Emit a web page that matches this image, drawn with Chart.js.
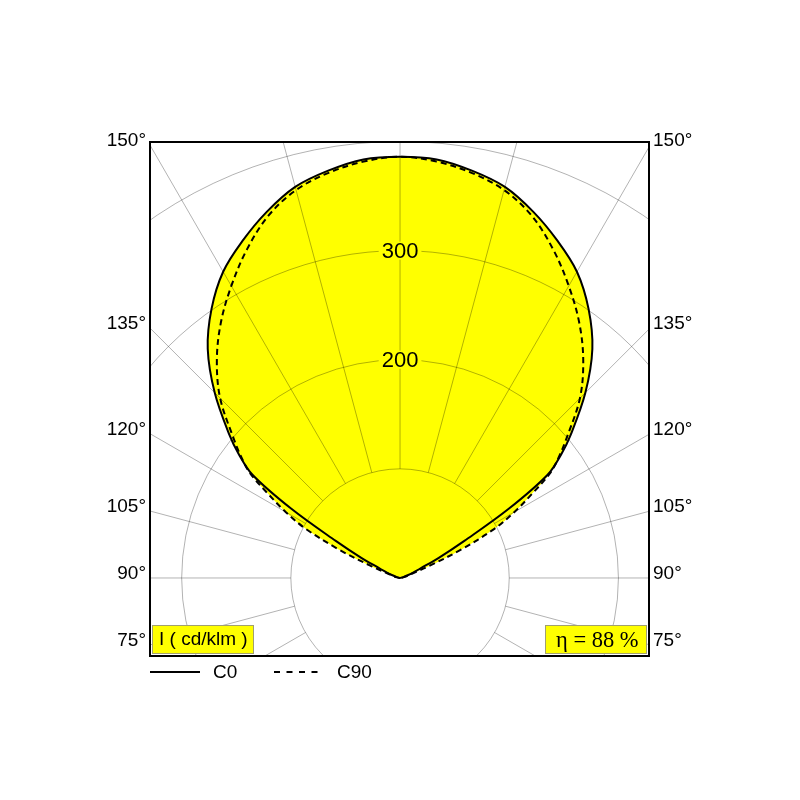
<!DOCTYPE html>
<html>
<head>
<meta charset="utf-8">
<script src="https://cdn.jsdelivr.net/npm/chart.js@4.4.0/dist/chart.umd.min.js"></script>
<style>
html,body{margin:0;padding:0;background:#fff;}
</style>
</head>
<body>
<canvas id="myChart" width="800" height="800"></canvas>
<script>
// gamma angles, degrees from nadir (180 = straight up)
const gammaAngles = [90, 95, 100, 105, 110, 112.5, 115, 117.5, 120, 122.5, 125, 127.5, 130, 135, 140, 145, 150, 155, 160, 165, 170, 175, 180];
// intensities in cd/klm
const c0Values  = [0, 0, 1, 3, 8, 13, 20, 40, 68, 118, 165, 186, 204, 240, 274, 301, 324, 341, 357, 371, 379, 385, 386];
const c90Values = [0, 1, 3, 6, 12, 30, 62, 97, 121, 143, 168, 184, 199, 233, 261, 286, 309, 332, 353, 368, 377, 383, 386];

const seriesNames = ['C0', 'C90'];
const ringValues = [100, 200, 300, 400, 500, 600];
const ringLabels = [200, 300];
const spokeAngles = [0, 15, 30, 45, 60, 75, 90, 105, 120, 135, 150, 165, 180, 195, 210, 225, 240, 255, 270, 285, 300, 315, 330, 345];
const sideLabels = [75, 90, 105, 120, 135, 150];
const unitText = 'I ( cd/klm )';
const etaText = 'η = 88 %';

const yellow = '#ffff00';
const rad = Math.PI / 180;

// left half goes up from 90 to 180, right half comes back down
function polarPoints(values){
  let pts = [];
  gammaAngles.forEach((g, i) => {
    pts.push({x: -values[i] * Math.sin(g * rad), y: -values[i] * Math.cos(g * rad)});
  });
  for (let i = gammaAngles.length - 2; i >= 0; i--) {
    let g = gammaAngles[i];
    pts.push({x: values[i] * Math.sin(g * rad), y: -values[i] * Math.cos(g * rad)});
  }
  return pts;
}

const gridPlugin = {
  id: 'polarGrid',
  beforeDatasetsDraw(chart){
    const {ctx, chartArea, scales: {x, y}} = chart;
    const cx = x.getPixelForValue(0);
    const cy = y.getPixelForValue(0);
    ctx.save();
    ctx.beginPath();
    ctx.rect(chartArea.left, chartArea.top, chartArea.right - chartArea.left, chartArea.bottom - chartArea.top);
    ctx.clip();
    ctx.strokeStyle = 'rgba(0,0,0,0.3)';
    ctx.lineWidth = 1;
    ringValues.forEach(r => {
      const rx = x.getPixelForValue(r) - cx;
      const ry = cy - y.getPixelForValue(r);
      ctx.beginPath();
      ctx.ellipse(cx, cy, rx, ry, 0, 0, Math.PI * 2);
      ctx.stroke();
    });
    const inner = ringValues[0];
    const outer = ringValues[ringValues.length - 1];
    spokeAngles.forEach(g => {
      const sx = Math.sin(g * rad), sy = -Math.cos(g * rad);
      ctx.beginPath();
      ctx.moveTo(x.getPixelForValue(inner * sx), y.getPixelForValue(inner * sy));
      ctx.lineTo(x.getPixelForValue(outer * sx), y.getPixelForValue(outer * sy));
      ctx.stroke();
    });
    ctx.restore();
  },
  afterDatasetsDraw(chart){
    const {ctx, scales: {x, y}} = chart;
    const cx = x.getPixelForValue(0);
    ctx.save();
    ctx.font = '22px "Liberation Sans", Arial, sans-serif';
    ctx.textAlign = 'center';
    ctx.textBaseline = 'middle';
    ringLabels.forEach(r => {
      const py = y.getPixelForValue(r);
      const w = ctx.measureText(String(r)).width;
      ctx.fillStyle = yellow;
      ctx.fillRect(cx - w / 2 - 3, py - 9, w + 6, 18);
      ctx.fillStyle = '#000';
      ctx.fillText(String(r), cx, py + 1);
    });
    ctx.restore();
  },
  afterDraw(chart){
    const {ctx, chartArea: a, scales: {x, y}} = chart;
    ctx.save();
    // frame
    ctx.strokeStyle = '#000';
    ctx.lineWidth = 2;
    ctx.strokeRect(a.left, a.top, a.right - a.left, a.bottom - a.top);

    // angle labels on both sides
    ctx.fillStyle = '#000';
    ctx.font = '19px "Liberation Sans", Arial, sans-serif';
    ctx.textBaseline = 'alphabetic';
    sideLabels.forEach(g => {
      const py = y.getPixelForValue(-x.min * Math.tan((g - 90) * rad)) + 1;
      ctx.textAlign = 'right';
      ctx.fillText(g + '°', a.left - 4, py);
      ctx.textAlign = 'left';
      ctx.fillText(g + '°', a.right + 4, py);
    });

    // boxed notes
    ctx.fillStyle = yellow;
    ctx.strokeStyle = '#a0a070';
    ctx.lineWidth = 1;
    ctx.fillRect(152.5, 625.5, 101, 28);
    ctx.strokeRect(152.5, 625.5, 101, 28);
    ctx.fillRect(545.5, 625.5, 101, 28);
    ctx.strokeRect(545.5, 625.5, 101, 28);
    ctx.fillStyle = '#000';
    ctx.textAlign = 'left';
    ctx.textBaseline = 'middle';
    ctx.font = '19px "Liberation Sans", Arial, sans-serif';
    ctx.fillText(unitText, 159, 640);
    ctx.font = '22.5px "Liberation Serif", "Times New Roman", serif';
    ctx.fillText(etaText, 556, 641);

    // legend
    ctx.strokeStyle = '#000';
    ctx.lineWidth = 2;
    ctx.beginPath();
    ctx.moveTo(150, 672);
    ctx.lineTo(200, 672);
    ctx.stroke();
    ctx.setLineDash([6, 6.5]);
    ctx.beginPath();
    ctx.moveTo(274, 672);
    ctx.lineTo(318, 672);
    ctx.stroke();
    ctx.setLineDash([]);
    ctx.font = '19px "Liberation Sans", Arial, sans-serif';
    ctx.fillText(seriesNames[0], 213, 673);
    ctx.fillText(seriesNames[1], 337, 673);
    ctx.restore();
  }
};

const ctx = document.getElementById('myChart');
new Chart(ctx, {
  type: 'scatter',
  data: {
    datasets: [
      {
        label: seriesNames[0],
        data: polarPoints(c0Values),
        showLine: true,
        fill: 'shape',
        backgroundColor: yellow,
        borderColor: '#000',
        borderWidth: 2,
        pointRadius: 0,
        tension: 0.35
      },
      {
        label: seriesNames[1],
        data: polarPoints(c90Values),
        showLine: true,
        fill: 'shape',
        backgroundColor: yellow,
        borderColor: '#000',
        borderWidth: 2,
        borderDash: [6, 4],
        pointRadius: 0,
        tension: 0.35
      }
    ]
  },
  options: {
    responsive: false,
    animation: false,
    layout: {padding: {left: 150, top: 142, right: 151, bottom: 144}},
    scales: {
      x: {type: 'linear', min: -229, max: 228, display: false},
      y: {type: 'linear', min: -71.5, max: 399.5, display: false}
    },
    plugins: {
      legend: {display: false},
      tooltip: {enabled: false},
      filler: {drawTime: 'beforeDatasetsDraw'}
    }
  },
  plugins: [gridPlugin]
});
</script>
</body>
</html>
